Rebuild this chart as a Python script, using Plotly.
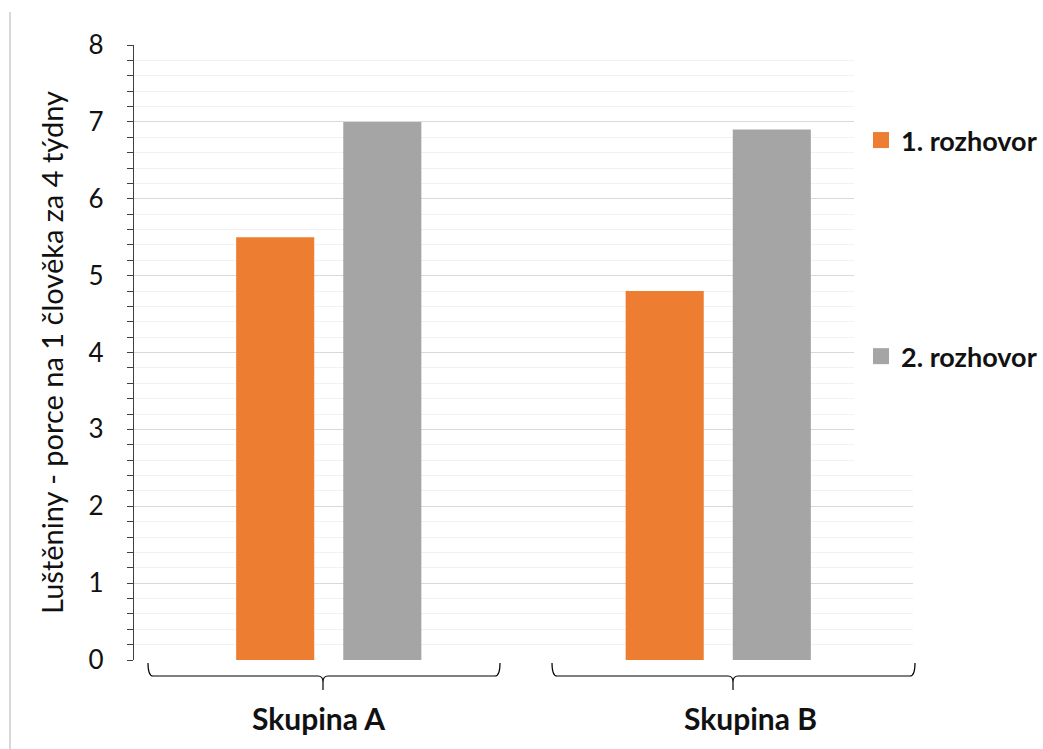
import plotly.graph_objects as go

# --- data ---------------------------------------------------------------
categories = ["Skupina A", "Skupina B"]
series_names = ["1. rozhovor", "2. rozhovor"]
values_round1 = [5.5, 4.8]
values_round2 = [7.0, 6.9]
y_ticks = [0, 1, 2, 3, 4, 5, 6, 7, 8]
y_title = "Luštěniny - porce na 1 člověka za 4 týdny"

colors = ["#ED7D31", "#A5A5A5"]
FONT = "Lato, 'Open Sans', sans-serif"
TXT = "#111111"

W, H = 1043, 749
ML, MR, MT, MB = 134, 130, 45, 89
PW, PH = W - ML - MR, H - MT - MB


def px(xp):
    return (xp - ML) / PW


def py(yp):
    return (H - MB - yp) / PH


fig = go.Figure()

for name, vals, col in zip(series_names, [values_round1, values_round2], colors):
    fig.add_trace(go.Bar(x=categories, y=vals, name=name, marker=dict(color=col, line=dict(width=0)),
                         showlegend=False, hoverinfo="x+y"))

# legend entries with larger square swatches
for name, col in zip(series_names, colors):
    fig.add_trace(go.Scatter(x=[None], y=[None], mode="markers", name=f"<b>{name}</b>",
                             legendgroup=name,
                             marker=dict(symbol="square", size=17, color=col)))

# white panel behind the legend (hides the grid on the right)
fig.add_shape(type="rect", xref="paper", yref="paper", layer="above",
              x0=px(854), x1=1.01, y0=py(468), y1=py(40),
              fillcolor="white", line=dict(width=0))


def brace(x0, xc, x1, ytop=663, yh=676, ytip=690, r=5):
    pts = [
        f"M{px(x0)},{py(ytop)}",
        f"Q{px(x0)},{py(yh)} {px(x0 + r)},{py(yh)}",
        f"L{px(xc - r)},{py(yh)}",
        f"Q{px(xc)},{py(yh)} {px(xc)},{py(yh + 6)}",
        f"L{px(xc)},{py(ytip)}",
        f"M{px(xc)},{py(yh + 6)}",
        f"Q{px(xc)},{py(yh)} {px(xc + r)},{py(yh)}",
        f"L{px(x1 - r)},{py(yh)}",
        f"Q{px(x1)},{py(yh)} {px(x1)},{py(ytop)}",
    ]
    return " ".join(pts)


for (a, c, b) in [(148, 323, 500), (552, 733, 915)]:
    fig.add_shape(type="path", xref="paper", yref="paper", path=brace(a, c, b),
                  line=dict(color="#000000", width=1.2))

# thin frame line on the left edge of the page
fig.add_shape(type="line", xref="paper", yref="paper", x0=px(10), x1=px(10),
              y0=py(12), y1=py(H + 5), line=dict(color="#d9d9d9", width=2))

# category labels under the braces
for i, (cat, shift) in enumerate(zip(categories, [-10, 32])):
    fig.add_annotation(x=i, y=py(718), xref="x", yref="paper", text=f"<b>{cat}</b>",
                       showarrow=False, xshift=shift, yanchor="middle",
                       font=dict(family=FONT, size=30, color=TXT))

fig.update_layout(
    width=W, height=H,
    margin=dict(l=ML, r=MR, t=MT, b=MB, autoexpand=False),
    paper_bgcolor="white", plot_bgcolor="white",
    barmode="group", bargap=0.45, bargroupgap=0.271,
    font=dict(family=FONT, color=TXT),
    showlegend=True,
    legend=dict(x=px(861), xanchor="left", y=py(116), yanchor="top",
                bgcolor="rgba(0,0,0,0)", tracegroupgap=178,
                font=dict(family=FONT, size=27, color=TXT),
                itemsizing="trace", traceorder="grouped"),
    xaxis=dict(showticklabels=False, showgrid=False, zeroline=False, showline=False,
               ticks="", range=[-0.5, 1.5], fixedrange=True),
    yaxis=dict(range=[0, 8], tickvals=y_ticks, showgrid=True, gridcolor="#d9d9d9",
               gridwidth=1.4, zeroline=False, showline=True, linecolor="#404040",
               linewidth=1.3, ticks="outside", ticklen=6, tickcolor="#404040",
               tickwidth=1.3, ticklabelstandoff=18,
               tickfont=dict(family=FONT, size=26, color=TXT),
               minor=dict(dtick=0.2, ticks="outside", ticklen=6, tickcolor="#404040",
                          tickwidth=1.3, showgrid=True, gridcolor="#f2f2f2", gridwidth=1.4),
               title=dict(text=y_title, standoff=16,
                          font=dict(family=FONT, size=29, color=TXT))),
    yaxis2=dict(overlaying="y", anchor="x", side="left", range=[0, 8], tickvals=y_ticks,
                ticks="inside", ticklen=8, tickcolor="#404040", tickwidth=1.3,
                showticklabels=False, showgrid=False, zeroline=False, showline=False),
)

fig.write_html("out.html")
